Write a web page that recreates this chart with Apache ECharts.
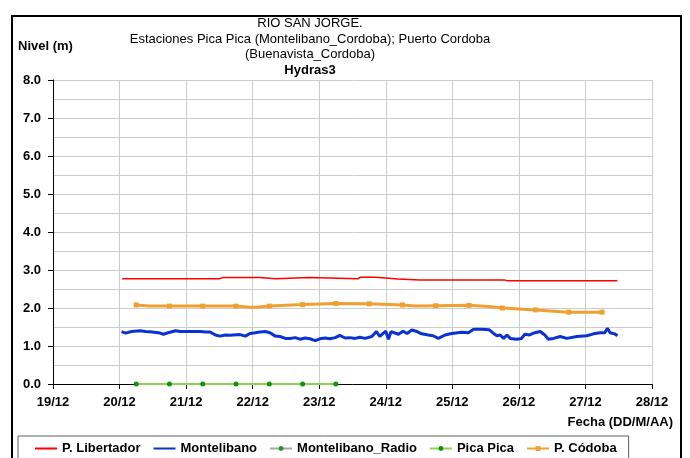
<!DOCTYPE html>
<html>
<head>
<meta charset="utf-8">
<script src="https://cdn.jsdelivr.net/npm/echarts@6/dist/echarts.min.js"></script>
<style>
  html, body { margin: 0; padding: 0; background: #fff; }
  #main { width: 690px; height: 458px; }
</style>
</head>
<body>
<div id="main"></div>
<script>
// dias de diciembre (19 = 19/12)
var dayTicks = [19, 20, 21, 22, 23, 24, 25, 26, 27, 28];
var seriesNames = ['P. Libertador', 'Montelibano', 'Montelibano_Radio', 'Pica Pica', 'P. Códoba'];

var libertador = [
    [20.04, 2.77], [21.50, 2.77], [21.55, 2.80], [22.10, 2.80], [22.12, 2.77], [22.35, 2.77],
    [22.38, 2.80], [22.85, 2.80], [22.88, 2.77], [23.58, 2.77], [23.62, 2.81], [23.85, 2.81],
    [23.88, 2.77], [24.18, 2.76], [24.20, 2.74], [24.52, 2.74], [24.55, 2.76], [24.62, 2.74],
    [25.78, 2.74], [25.82, 2.72], [27.48, 2.72]
];

var montelibano = [
    [20.03, 1.38], [20.09, 1.34], [20.18, 1.38], [20.31, 1.40], [20.39, 1.38], [20.49, 1.37],
    [20.61, 1.34], [20.66, 1.31], [20.73, 1.35], [20.84, 1.40], [20.91, 1.38], [21.06, 1.38],
    [21.21, 1.38], [21.29, 1.37], [21.36, 1.37], [21.44, 1.29], [21.51, 1.26], [21.59, 1.29],
    [21.66, 1.28], [21.81, 1.30], [21.89, 1.26], [21.96, 1.33], [22.04, 1.35], [22.11, 1.37],
    [22.19, 1.38], [22.26, 1.35], [22.34, 1.26], [22.41, 1.25], [22.49, 1.20], [22.56, 1.20],
    [22.64, 1.22], [22.71, 1.18], [22.79, 1.21], [22.86, 1.19], [22.94, 1.14], [23.01, 1.19],
    [23.09, 1.21], [23.16, 1.19], [23.24, 1.22], [23.31, 1.28], [23.39, 1.21], [23.46, 1.22],
    [23.54, 1.20], [23.61, 1.23], [23.69, 1.20], [23.79, 1.25], [23.86, 1.38], [23.91, 1.25],
    [23.96, 1.33], [24.00, 1.39], [24.04, 1.18], [24.08, 1.38], [24.19, 1.31], [24.26, 1.39],
    [24.32, 1.33], [24.39, 1.42], [24.47, 1.38], [24.54, 1.32], [24.64, 1.29], [24.71, 1.27],
    [24.79, 1.20], [24.89, 1.29], [24.99, 1.33], [25.14, 1.36], [25.24, 1.35], [25.32, 1.44],
    [25.44, 1.44], [25.55, 1.43], [25.62, 1.33], [25.67, 1.27], [25.72, 1.29], [25.77, 1.20],
    [25.82, 1.29], [25.87, 1.20], [25.97, 1.18], [26.04, 1.20], [26.09, 1.31], [26.16, 1.29],
    [26.24, 1.35], [26.32, 1.38], [26.34, 1.40], [26.39, 1.29], [26.44, 1.18], [26.52, 1.20],
    [26.62, 1.25], [26.72, 1.20], [26.87, 1.25], [27.02, 1.27], [27.12, 1.32], [27.22, 1.35],
    [27.29, 1.35], [27.33, 1.47], [27.37, 1.35], [27.44, 1.32], [27.48, 1.27]
];

var montelibanoRadio = [];

var picaPica = [
    [20.25, 0], [20.75, 0], [21.25, 0], [21.75, 0], [22.25, 0], [22.75, 0], [23.25, 0]
];

// puntos con marcador cada 12 h
var cordoba = [
    [20.25, 2.08], [20.75, 2.05], [21.25, 2.05], [21.75, 2.05], [22.25, 2.05], [22.75, 2.09],
    [23.25, 2.12], [23.75, 2.11], [24.25, 2.08], [24.75, 2.06], [25.25, 2.07], [25.75, 2.00],
    [26.25, 1.95], [26.75, 1.89], [27.25, 1.89]
];
// puntos intermedios sin marcador
var cordobaExtra = [
    [20.45, 2.05], [21.95, 2.02], [22.05, 2.02], [24.45, 2.05], [25.6, 2.03]
];

function makeCordobaData() {
    var pts = cordoba.map(function (p) { return { value: p }; });
    cordobaExtra.forEach(function (p) {
        pts.push({ value: p, symbol: 'none' });
    });
    pts.sort(function (a, b) { return a.value[0] - b.value[0]; });
    return pts;
}

var myChart = echarts.init(document.getElementById('main'));
var boldFont = { fontFamily: 'Liberation Sans', fontWeight: 'bold', fontSize: 13, color: '#000' };
var noMark = 'rgba(0,0,0,0)';

var option = {
    backgroundColor: '#fff',
    animation: false,
    title: {
        text: 'RIO SAN JORGE.\nEstaciones Pica Pica (Montelibano_Cordoba); Puerto Cordoba\n(Buenavista_Cordoba)',
        subtext: 'Hydras3',
        left: 310,
        top: 16,
        textAlign: 'center',
        itemGap: 0,
        padding: 0,
        textStyle: { fontFamily: 'Liberation Sans', fontWeight: 'normal', fontSize: 13, color: '#000', lineHeight: 15.5 },
        subtextStyle: { fontFamily: 'Liberation Sans', fontWeight: 'bold', fontSize: 13, color: '#000', lineHeight: 15.5 }
    },
    graphic: [
        {
            type: 'rect',
            shape: { x: 12, y: 16, width: 669, height: 470 },
            style: { fill: 'none', stroke: '#000', lineWidth: 2 },
            z: -1
        },
        {
            type: 'text',
            left: 18,
            top: 40,
            style: { text: 'Nivel (m)', font: 'bold 13px "Liberation Sans"', fill: '#000' }
        },
        {
            type: 'text',
            right: 17,
            top: 416,
            style: { text: 'Fecha (DD/M/AA)', font: 'bold 13px "Liberation Sans"', fill: '#000' }
        }
    ],
    legend: {
        data: seriesNames,
        left: 18,
        top: 436,
        padding: [6, 12, 10, 16],
        itemGap: 12,
        itemWidth: 22,
        itemHeight: 6,
        backgroundColor: '#fff',
        borderColor: '#606060',
        borderWidth: 1,
        borderRadius: 0,
        textStyle: boldFont
    },
    grid: { left: 53, right: 38, top: 80, bottom: 74 },
    xAxis: {
        type: 'value',
        min: 19,
        max: 28,
        interval: 1,
        axisLine: { lineStyle: { color: '#000', width: 1 } },
        axisTick: { show: true, length: 5, lineStyle: { color: '#000' } },
        axisLabel: {
            margin: 12,
            fontFamily: 'Liberation Sans', fontWeight: 'bold', fontSize: 13, color: '#000',
            formatter: function (v) { return dayTicks.indexOf(v) >= 0 ? v + '/12' : ''; }
        },
        splitLine: { show: true, lineStyle: { color: '#cccccc', width: 1 } }
    },
    yAxis: {
        type: 'value',
        min: 0,
        max: 8,
        interval: 1,
        axisLine: { show: true, lineStyle: { color: '#000', width: 1 } },
        axisTick: { show: true, length: 5, lineStyle: { color: '#000' } },
        axisLabel: {
            margin: 12,
            fontFamily: 'Liberation Sans', fontWeight: 'bold', fontSize: 13, color: '#000',
            formatter: function (v) { return v.toFixed(1); }
        },
        splitLine: { show: true, lineStyle: { color: '#cccccc', width: 1 } },
        minorTick: { show: false, splitNumber: 2 },
        minorSplitLine: { show: true, lineStyle: { color: '#cccccc', width: 1 } }
    },
    series: [
        {
            name: seriesNames[0],
            type: 'line',
            data: libertador,
            symbol: 'none',
            lineStyle: { color: '#ff0000', width: 1.5 },
            itemStyle: { color: noMark, borderColor: noMark },
            z: 3
        },
        {
            name: seriesNames[1],
            type: 'line',
            data: montelibano,
            symbol: 'none',
            lineStyle: { color: '#0a32d2', width: 3 },
            itemStyle: { color: noMark, borderColor: noMark },
            z: 3
        },
        {
            name: seriesNames[2],
            type: 'line',
            data: montelibanoRadio,
            symbol: 'circle',
            symbolSize: 5,
            lineStyle: { color: '#a6a6a6', width: 3 },
            itemStyle: { color: '#1e9a1e' }
        },
        {
            name: seriesNames[3],
            type: 'line',
            data: picaPica,
            symbol: 'circle',
            symbolSize: 5,
            lineStyle: { color: '#92d050', width: 2 },
            itemStyle: { color: '#0a960a' },
            z: 4
        },
        {
            name: seriesNames[4],
            type: 'line',
            data: makeCordobaData(),
            symbol: 'rect',
            symbolSize: 5,
            lineStyle: { color: '#f0a030', width: 3 },
            itemStyle: { color: '#f0a030' },
            z: 3
        }
    ]
};

myChart.setOption(option);
window.onresize = function () {
    if (myChart) {
        myChart.resize();
    }
};
</script>
</body>
</html>
